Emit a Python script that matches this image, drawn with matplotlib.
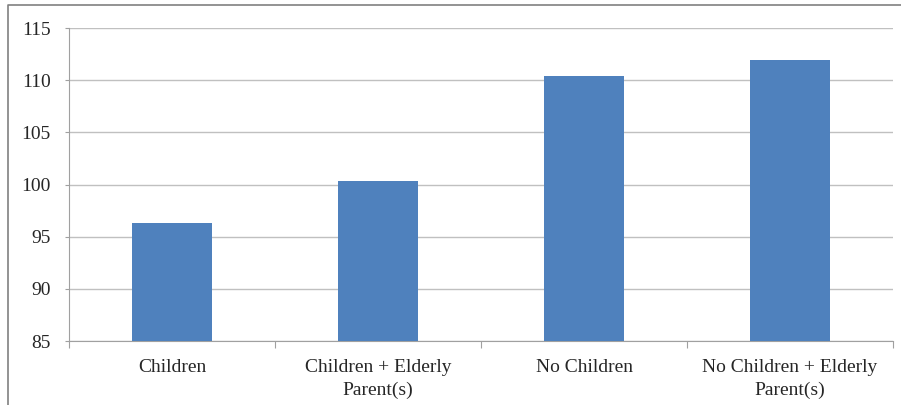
import matplotlib
matplotlib.use("Agg")
import matplotlib.pyplot as plt
from matplotlib.lines import Line2D
import numpy as np

categories = ["Children", "Children + Elderly\nParent(s)", "No Children", "No Children + Elderly\nParent(s)"]
values = [96.3, 100.3, 110.4, 111.9]
yticks = [85, 90, 95, 100, 105, 110, 115]

plt.rcParams['font.family'] = ['Liberation Serif', 'DejaVu Serif']

fig = plt.figure(figsize=(9.01, 4.05), dpi=100)
ax = fig.add_axes([69/901, 1 - 341/405, (893 - 69)/901, (341 - 28)/405])

x = np.arange(len(categories))
ax.bar(x, values, width=0.39, color='#4f81bd', zorder=3)

ax.set_ylim(85, 115)
ax.set_xlim(-0.5, len(categories) - 0.5)
ax.set_yticks(yticks)
ax.set_yticklabels([str(t) for t in yticks], fontsize=14, color='#262626')
ax.set_xticks(x)
ax.set_xticklabels(categories, fontsize=14, linespacing=1.4, color='#262626')
ax.tick_params(axis='x', which='major', length=0, pad=13)
ax.set_xticks(np.arange(len(categories) + 1) - 0.5, minor=True)
ax.tick_params(axis='x', which='minor', length=5, color='#a0a0a0', width=0.8)
ax.tick_params(axis='y', length=3, color='#a0a0a0', width=0.8, pad=10)

ax.grid(axis='y', color='#c0c0c0', linewidth=1, zorder=0)
for side in ['top', 'right']:
    ax.spines[side].set_visible(False)
for side in ['left', 'bottom']:
    ax.spines[side].set_color('#a0a0a0')
    ax.spines[side].set_linewidth(0.8)

# outer chart border (top and left edges)
fig.add_artist(Line2D([8/901, 8/901, 1.0], [0.0, 1 - 5/405, 1 - 5/405],
                      transform=fig.transFigure, color='#808080', linewidth=1.2))

fig.savefig("out.png", dpi=100)
